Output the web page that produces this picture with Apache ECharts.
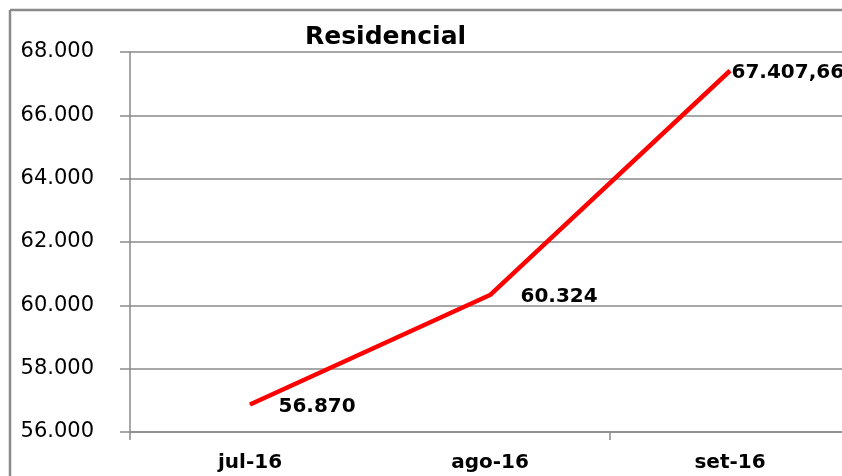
<!DOCTYPE html>
<html lang="pt">
<head>
<meta charset="UTF-8">
<title>Residencial</title>
<script src="https://cdn.jsdelivr.net/npm/echarts@6/dist/echarts.min.js"></script>
<style>
  html, body { margin: 0; padding: 0; background: #fff; overflow: hidden; }
  #main { width: 842px; height: 476px; }
</style>
</head>
<body>
<div id="main"></div>
<script>
// dados do gráfico
var meses = ['jul-16', 'ago-16', 'set-16'];
var valores = [56870, 60324, 67407.66];
var rotulos = ['56.870', '60.324', '67.407,66'];
var eixoMin = 56000, eixoMax = 68000, eixoPasso = 2000;

// distância de cada rótulo ao ponto
var distRotulo = [28, 30, 1];

function fmtMilhar(v) {
  // 56000 -> 56.000
  return String(v).replace(/\B(?=(\d{3})+(?!\d))/g, '.');
}

var chart = echarts.init(document.getElementById('main'));

var serieDados = valores.map(function (v, i) {
  return {
    value: v,
    label: {
      show: true,
      position: 'right',
      distance: distRotulo[i],
      offset: [0, 2],
      formatter: rotulos[i]
    }
  };
});

var option = {
  animation: false,
  title: {
    text: 'Residencial',
    left: 300,
    top: 20,
    textStyle: { fontFamily: 'DejaVu Sans', fontWeight: 'bold', fontSize: 25, color: '#000' }
  },
  // moldura externa: linha esquerda e linha de topo
  graphic: [{
    type: 'line',
    shape: { x1: 10, y1: 10, x2: 10, y2: 476 },
    style: { stroke: '#8a8a8a', lineWidth: 2.5 },
    silent: true
  }, {
    type: 'line',
    shape: { x1: 10, y1: 10, x2: 842, y2: 10 },
    style: { stroke: '#8a8a8a', lineWidth: 2.5 },
    silent: true
  }],
  grid: { left: 130, right: -8, top: 52, bottom: 44, outerBoundsMode: 'none', containLabel: false },
  xAxis: {
    type: 'category',
    data: meses,
    boundaryGap: true,
    axisLine: { show: true, lineStyle: { color: '#8a8a8a', width: 1.5 } },
    axisTick: { show: true, interval: 1, length: 8, lineStyle: { color: '#8a8a8a', width: 1.5 } },
    axisLabel: { margin: 21, fontFamily: 'DejaVu Sans', fontWeight: 'bold', fontSize: 20, color: '#000' },
    splitLine: { show: false }
  },
  yAxis: {
    type: 'value',
    min: eixoMin,
    max: eixoMax,
    interval: eixoPasso,
    axisLine: { show: true, lineStyle: { color: '#8a8a8a', width: 1.5 } },
    axisTick: { show: true, length: 10, lineStyle: { color: '#8a8a8a', width: 1.5 } },
    axisLabel: {
      margin: 36,
      fontFamily: 'DejaVu Sans', fontSize: 21, color: '#000',
      formatter: fmtMilhar
    },
    splitLine: { show: true, lineStyle: { color: '#8a8a8a', width: 1.5 } }
  },
  series: [{
    type: 'line',
    data: serieDados,
    symbol: 'circle',
    symbolSize: 1,
    showSymbol: true,
    itemStyle: { color: '#ff0000' },
    lineStyle: { color: '#ff0000', width: 4.5 },
    label: { fontFamily: 'DejaVu Sans', fontWeight: 'bold', fontSize: 20, color: '#000' }
  }]
};

chart.setOption(option);
</script>
</body>
</html>
